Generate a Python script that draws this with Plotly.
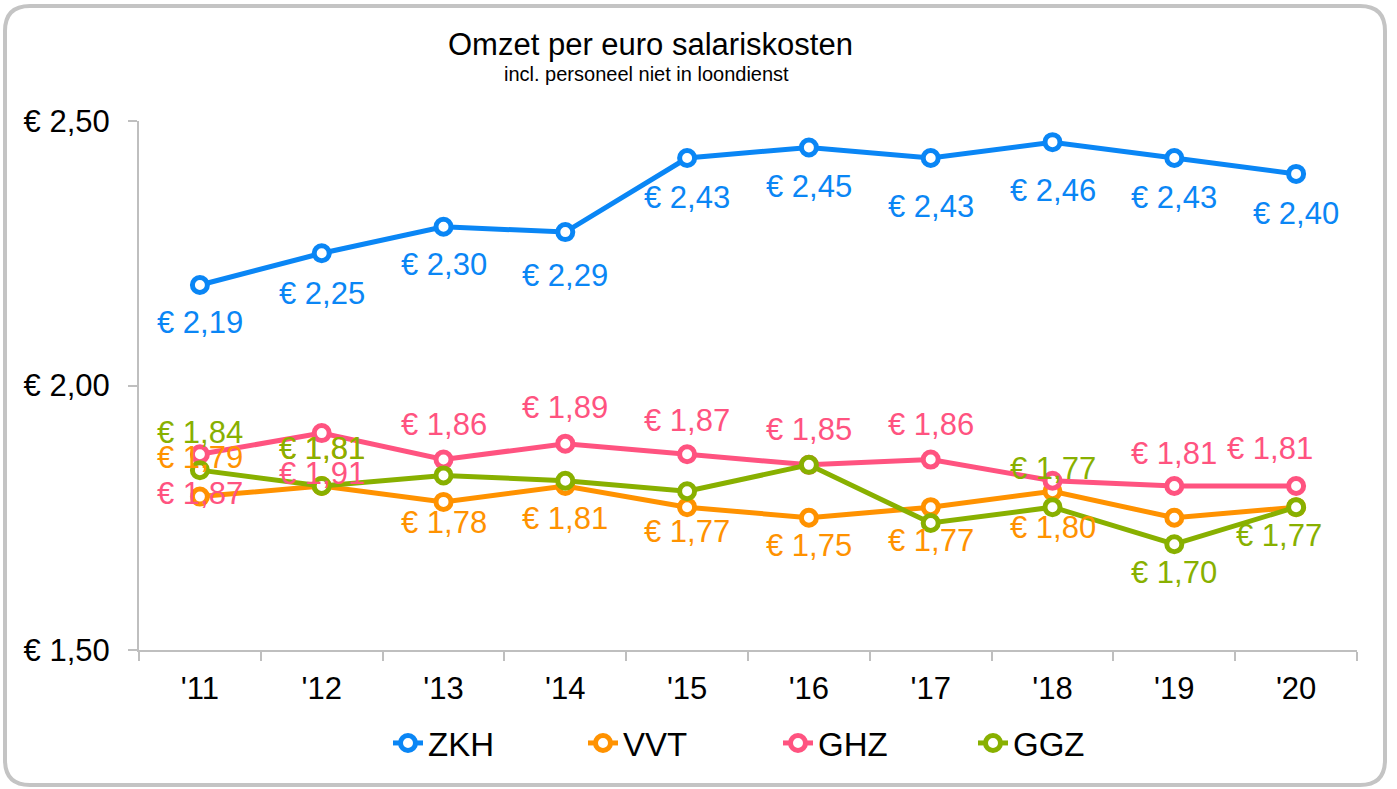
import plotly.graph_objects as go

# ---------------- data ----------------
years = ["'11", "'12", "'13", "'14", "'15", "'16", "'17", "'18", "'19", "'20"]
zkh = [2.19, 2.25, 2.30, 2.29, 2.43, 2.45, 2.43, 2.46, 2.43, 2.40]
vvt = [1.79, 1.81, 1.78, 1.81, 1.77, 1.75, 1.77, 1.80, 1.75, 1.77]
ghz = [1.87, 1.91, 1.86, 1.89, 1.87, 1.85, 1.86, 1.82, 1.81, 1.81]
ggz = [1.84, 1.81, 1.83, 1.82, 1.80, 1.85, 1.74, 1.77, 1.70, 1.77]
y_tickvals = [1.50, 2.00, 2.50]
y_ticktext = ["€ 1,50", "€ 2,00", "€ 2,50"]

# ---------------- style ----------------
FONT = "Arial, Liberation Sans, sans-serif"
FS = 31
colors = {"ZKH": "#0A86F5", "VVT": "#FF9200", "GHZ": "#FF5380", "GGZ": "#88B000"}

# label offsets in px (dx, dy; dy positive = below point), None = no label
lab_zkh = [(0, 38), (0, 40), (0, 38), (0, 43), (0, 39), (0, 39), (0, 48), (0, 48), (0, 39), (0, 40)]
lab_vvt = [(0, -39), (0, -38), (0, 21), (0, 32), (0, 24), (0, 28), (0, 33), (0, 36), None, None]
lab_ghz = [(0, 39), (0, 40), (0, -35), (0, -36), (0, -34), (0, -35), (0, -35), None, (0, -33), (-26, -38)]
lab_ggz = [(0, -38), (0, -38), None, None, None, None, None, (0, -39), (0, 28), (-17, 28)]

series = [("ZKH", zkh, lab_zkh), ("VVT", vvt, lab_vvt), ("GHZ", ghz, lab_ghz), ("GGZ", ggz, lab_ggz)]

W, H = 1397, 789
ML, MR, MT, MB = 139, 40, 121, 139
PW, PH = W - ML - MR, H - MT - MB


def px(x):
    return (x - ML) / PW


def py(y):
    return (H - MB - y) / PH


fig = go.Figure()
for name, vals, _ in series:
    c = colors[name]
    fig.add_trace(go.Scatter(
        x=years, y=vals, name=name, mode="lines+markers",
        line=dict(color=c, width=5),
        marker=dict(symbol="circle", size=15, color="white", line=dict(color=c, width=5)),
        hoverinfo="skip",
    ))

annotations = []
for name, vals, labs in series:
    for yr, v, lab in zip(years, vals, labs):
        if lab is None:
            continue
        dx, dy = lab
        annotations.append(dict(
            x=yr, y=v, xref="x", yref="y", text=f"€ {v:.2f}".replace(".", ","),
            showarrow=False, xshift=dx, yshift=-dy,
            font=dict(family=FONT, size=FS, color=colors[name]),
            xanchor="center", yanchor="middle",
        ))

annotations.append(dict(
    x=px(650), y=py(45), xref="paper", yref="paper", text="Omzet per euro salariskosten",
    showarrow=False, font=dict(family=FONT, size=31, color="black"), xanchor="center", yanchor="middle"))
annotations.append(dict(
    x=px(646), y=py(74), xref="paper", yref="paper", text="incl. personeel niet in loondienst",
    showarrow=False, font=dict(family=FONT, size=20, color="black"), xanchor="center", yanchor="middle"))

# rounded outer border
x0, x1, y0, y1, r = 5, 1385, 6, 785, 25
path = (f"M {px(x0 + r)},{py(y0)} L {px(x1 - r)},{py(y0)} Q {px(x1)},{py(y0)} {px(x1)},{py(y0 + r)} "
        f"L {px(x1)},{py(y1 - r)} Q {px(x1)},{py(y1)} {px(x1 - r)},{py(y1)} "
        f"L {px(x0 + r)},{py(y1)} Q {px(x0)},{py(y1)} {px(x0)},{py(y1 - r)} "
        f"L {px(x0)},{py(y0 + r)} Q {px(x0)},{py(y0)} {px(x0 + r)},{py(y0)} Z")
shapes = [dict(type="path", path=path, xref="paper", yref="paper",
               line=dict(color="#C4C4C4", width=4), fillcolor="rgba(0,0,0,0)", layer="below")]

fig.update_layout(
    width=W, height=H,
    margin=dict(l=ML, r=MR, t=MT, b=MB, autoexpand=False),
    paper_bgcolor="white", plot_bgcolor="white",
    font=dict(family=FONT, size=FS, color="black"),
    showlegend=True,
    legend=dict(orientation="h", x=px(388), xanchor="left", y=py(743), yanchor="middle",
                font=dict(family=FONT, size=33, color="black"), entrywidth=150,
                bgcolor="rgba(0,0,0,0)", itemclick=False),
    xaxis=dict(type="category", showgrid=False, zeroline=False,
               showline=True, linecolor="#BFBFBF", linewidth=2,
               ticks="outside", tickson="boundaries", ticklen=9, tickcolor="#BFBFBF", tickwidth=2,
               ticklabelstandoff=10,
               tickfont=dict(family=FONT, size=FS, color="black"), range=[-0.5, 9.5]),
    yaxis=dict(range=[1.5, 2.5], tickvals=y_tickvals, ticktext=y_ticktext,
               showgrid=False, zeroline=False, showline=True, linecolor="#BFBFBF", linewidth=2,
               ticks="outside", ticklen=9, tickcolor="#BFBFBF", tickwidth=2,
               ticklabelstandoff=12,
               tickfont=dict(family=FONT, size=FS, color="black")),
    annotations=annotations,
    shapes=shapes,
)

fig.write_html("out.html", config={"displayModeBar": False},
               post_script="document.body.style.margin='0';")
